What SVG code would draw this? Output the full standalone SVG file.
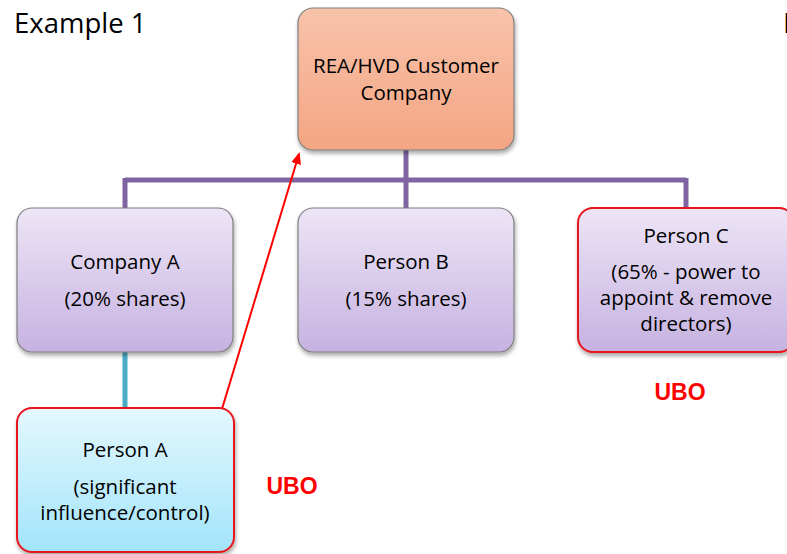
<svg xmlns="http://www.w3.org/2000/svg" width="787" height="554" viewBox="0 0 787 554">
<style>
text{font-family:"Open Sans","Liberation Sans",sans-serif;fill:#000;}
.t{font-size:20.5px;text-anchor:middle;}
.ubo{font-family:"Liberation Sans",sans-serif;font-size:23px;font-weight:bold;fill:#ff0000;text-anchor:middle;}
.box{stroke:#7f7f7f;stroke-width:1.2;filter:url(#sh);}
.red{stroke:#e8141c;stroke-width:2;}
.pur{stroke:#8064a2;stroke-width:5;fill:none;}
</style>
<defs>
<linearGradient id="gO" x1="0" y1="0" x2="0" y2="1"><stop offset="0" stop-color="#f8c3ab"/><stop offset="1" stop-color="#f4a582"/></linearGradient>
<linearGradient id="gP" x1="0" y1="0" x2="0" y2="1"><stop offset="0" stop-color="#ede5f6"/><stop offset="1" stop-color="#c6b2e1"/></linearGradient>
<linearGradient id="gC" x1="0" y1="0" x2="0" y2="1"><stop offset="0" stop-color="#e4f8fe"/><stop offset="1" stop-color="#a2e4fa"/></linearGradient>
<filter id="sh" x="-10%" y="-10%" width="125%" height="125%"><feGaussianBlur in="SourceAlpha" stdDeviation="2"/><feOffset dx="1" dy="3"/><feComponentTransfer><feFuncA type="linear" slope="0.35"/></feComponentTransfer><feMerge><feMergeNode/><feMergeNode in="SourceGraphic"/></feMerge></filter>
<marker id="ar" markerWidth="12" markerHeight="10" refX="10" refY="5" orient="auto" markerUnits="userSpaceOnUse"><path d="M0,0 L12,5 L0,10 z" fill="#ff0000"/></marker>
</defs>
<text x="14" y="33" style="font-size:27.5px">Example 1</text>
<text x="783" y="33" style="font-size:27.5px">Example 2</text>
<g id="connectors">
<path class="pur" d="M406,150 V180 M125,180 H686 M125,178 V208 M406,178 V208 M686,178 V208"/>
<path d="M125,352 V408" stroke="#4bacc6" stroke-width="5" fill="none"/>
<line x1="222" y1="409" x2="299" y2="154" stroke="#ff0000" stroke-width="2" marker-end="url(#ar)"/>
</g>
<g id="top">
<rect class="box" x="298" y="8" width="216" height="142" rx="15" fill="url(#gO)"/>
<text class="t" x="406" y="73">REA/HVD Customer</text>
<text class="t" x="406" y="100">Company</text>
</g>
<g id="companyA">
<rect class="box" x="17" y="208" width="216" height="144" rx="15" fill="url(#gP)"/>
<text class="t" x="125" y="269">Company A</text>
<text class="t" x="125" y="306">(20% shares)</text>
</g>
<g id="personB">
<rect class="box" x="298" y="208" width="216" height="144" rx="15" fill="url(#gP)"/>
<text class="t" x="406" y="269">Person B</text>
<text class="t" x="406" y="306">(15% shares)</text>
</g>
<g id="personC">
<rect class="box red" x="578" y="208" width="216" height="144" rx="15" fill="url(#gP)"/>
<text class="t" x="686" y="243">Person C</text>
<text class="t" x="686" y="279">(65% - power to</text>
<text class="t" x="686" y="305">appoint &amp; remove</text>
<text class="t" x="686" y="331">directors)</text>
<text class="ubo" x="680" y="400">UBO</text>
</g>
<g id="personA">
<rect class="box red" x="17" y="408" width="217" height="144" rx="15" fill="url(#gC)"/>
<text class="t" x="125" y="457">Person A</text>
<text class="t" x="125" y="494">(significant</text>
<text class="t" x="125" y="520">influence/control)</text>
<text class="ubo" x="292" y="494">UBO</text>
</g>
</svg>
